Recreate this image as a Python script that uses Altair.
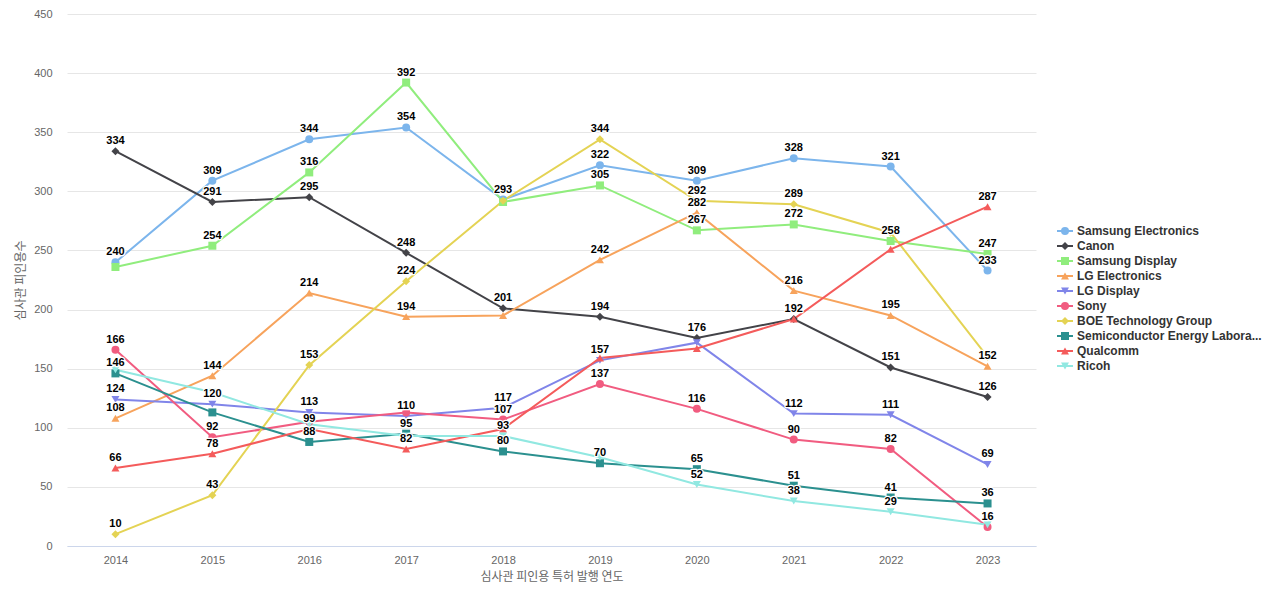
import altair as alt
import pandas as pd

years = [2014, 2015, 2016, 2017, 2018, 2019, 2020, 2021, 2022, 2023]

names = [
    "Samsung Electronics", "Canon", "Samsung Display", "LG Electronics", "LG Display",
    "Sony", "BOE Technology Group", "Semiconductor Energy Laboratory", "Qualcomm", "Ricoh",
]
colors = ["#7cb5ec", "#434348", "#90ed7d", "#f7a35c", "#8085e9",
          "#f15c80", "#e4d354", "#2b908f", "#f45b5b", "#91e8e1"]
shapes = ["circle", "diamond", "square", "triangle-up", "triangle-down",
          "circle", "diamond", "square", "triangle-up", "triangle-down"]

samsung_electronics = [240, 309, 344, 354, 293, 322, 309, 328, 321, 233]
canon = [334, 291, 295, 248, 201, 194, 176, 192, 151, 126]
samsung_display = [236, 254, 316, 392, 291, 305, 267, 272, 258, 247]
lg_electronics = [108, 144, 214, 194, 195, 242, 282, 216, 195, 152]
lg_display = [124, 120, 113, 110, 117, 157, 172, 112, 111, 69]
sony = [166, 92, 105, 113, 107, 137, 116, 90, 82, 16]
boe = [10, 43, 153, 224, 292, 344, 292, 289, 265, 160]
sel = [146, 113, 88, 95, 80, 70, 65, 51, 41, 36]
qualcomm = [66, 78, 99, 82, 99, 159, 167, 192, 251, 287]
ricoh = [149, 130, 103, 93, 93, 75, 52, 38, 29, 18]

series_values = [samsung_electronics, canon, samsung_display, lg_electronics, lg_display,
                 sony, boe, sel, qualcomm, ricoh]

# labels hidden in the reference because of overlap
hidden_labels = [
    ("Samsung Display", 2014), ("Ricoh", 2014),
    ("Semiconductor Energy Laboratory", 2015), ("Ricoh", 2015),
    ("Sony", 2016), ("Ricoh", 2016),
    ("Sony", 2017), ("Ricoh", 2017),
    ("Samsung Display", 2018), ("BOE Technology Group", 2018), ("LG Electronics", 2018), ("Qualcomm", 2018),
    ("Qualcomm", 2019), ("Ricoh", 2019),
    ("LG Display", 2020), ("Qualcomm", 2020),
    ("Qualcomm", 2021),
    ("BOE Technology Group", 2022), ("Qualcomm", 2022),
    ("BOE Technology Group", 2023), ("Ricoh", 2023),
]

rows = []
for i, (n, vals) in enumerate(zip(names, series_values)):
    for y, v in zip(years, vals):
        rows.append({"series": n, "order": i, "year": str(y), "value": v,
                     "show": (n, y) not in hidden_labels})
df = pd.DataFrame(rows)
legend_df = pd.DataFrame({"series": names, "order": list(range(len(names)))})

FONT = "Liberation Sans"
KFONT = "Noto Sans CJK KR"

color_scale = alt.Scale(domain=names, range=colors)
shape_scale = alt.Scale(domain=names, range=shapes)

x_enc = alt.X("year:O", scale=alt.Scale(type="point", padding=0.5),
              axis=alt.Axis(labelAngle=0, domainColor="#ccd6eb", ticks=False, grid=False,
                            labelPadding=8, labelColor="#666666", labelFontSize=11, labelFont=FONT,
                            title="심사관 피인용 특허 발행 연도", titleColor="#666666",
                            titleFont=KFONT, titleFontSize=12, titleFontWeight="normal",
                            titlePadding=6))
y_enc = alt.Y("value:Q", scale=alt.Scale(domain=[0, 450], nice=False),
              axis=alt.Axis(values=list(range(0, 451, 50)), grid=True, gridColor="#e6e6e6",
                            domain=False, ticks=False, labelPadding=15, labelColor="#666666",
                            labelFontSize=11, labelFont=FONT,
                            title="심사관 피인용수", titleColor="#666666", titleFont=KFONT,
                            titleFontSize=12, titleFontWeight="normal", titlePadding=6))
c_enc = alt.Color("series:N", scale=color_scale, legend=None)
s_enc = alt.Shape("series:N", scale=shape_scale, legend=None)

base = alt.Chart(df)
lines = base.mark_line(strokeWidth=2).encode(x=x_enc, y=y_enc, color=c_enc,
                                             order=alt.Order("year:O"))
points = base.mark_point(filled=True, size=64, opacity=1).encode(
    x=x_enc, y=y_enc, color=c_enc, shape=s_enc)
lab = base.transform_filter("datum.show")
halo = lab.mark_text(dy=-10, fontSize=11, fontWeight="bold", font=FONT, stroke="white",
                     strokeWidth=2.5, strokeJoin="round", color="white").encode(
    x=x_enc, y=y_enc, text="value:Q")
labels = lab.mark_text(dy=-10, fontSize=11, fontWeight="bold", font=FONT, color="#000000").encode(
    x=x_enc, y=y_enc, text="value:Q")

main = alt.layer(lines, points, halo, labels)

ly = alt.Y("series:N", scale=alt.Scale(type="point", domain=names, range=[217, 352], padding=0),
           axis=None)
lbase = alt.Chart(legend_df)
leg_rule = lbase.mark_rule(strokeWidth=2).encode(
    y=ly, x=alt.value(990), x2=alt.value(1006), color=c_enc)
leg_pt = lbase.mark_point(filled=True, size=64, opacity=1).encode(
    y=ly, x=alt.value(998), color=c_enc, shape=s_enc)
leg_txt = lbase.mark_text(align="left", baseline="middle", fontSize=12, fontWeight="bold",
                          font=FONT, color="#333333", limit=185, ellipsis="...").encode(
    y=ly, x=alt.value(1010), text="series:N")
legend = alt.layer(leg_rule, leg_pt, leg_txt)

chart = alt.layer(main, legend).resolve_scale(y="independent").properties(
    width=969, height=532, autosize="none",
    padding={"left": 59, "top": 6, "right": 236, "bottom": 46},
    background="white",
).configure_view(stroke=None)

chart.save("out.html", embed_options={"renderer": "svg", "actions": False})
